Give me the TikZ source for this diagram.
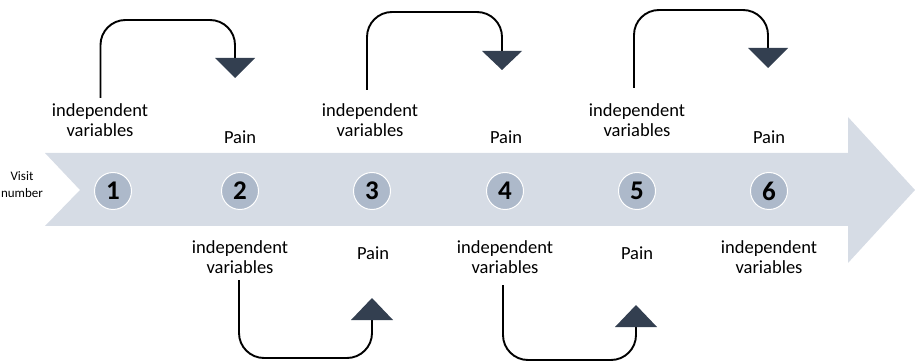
\documentclass[tikz,border=0pt]{standalone}
\usepackage{fontspec}
\setmainfont{Carlito}
\definecolor{bandfill}{HTML}{D6DCE5}
\definecolor{dotfill}{HTML}{ADB9CA}
\definecolor{tipfill}{HTML}{333F50}
\begin{document}
\begin{tikzpicture}[x=1pt,y=-1pt,
  lbl/.style={align=center,inner sep=0pt,font=\fontsize{18.5}{20}\selectfont},
  small/.style={align=center,inner sep=0pt,font=\fontsize{13}{17}\selectfont},
  visit/.style={circle,minimum size=37pt,inner sep=0pt,fill=dotfill,draw=white,line width=1pt,font=\fontsize{27}{27}\selectfont\bfseries},
  link/.style={line width=1.9pt,rounded corners=25pt},
  tipdown/.style={fill=tipfill},
]
\useasboundingbox (0,0) rectangle (915,363);
% band arrow
\fill[bandfill] (45,153) -- (848,153) -- (848,117) -- (915,190) -- (848,263) -- (848,226) -- (45,226) -- (80,190) -- cycle;
\node[small] (vn) at (22,185) {Visit\\number};
% circles
\node[visit] (v1) at (113,191) {1};
\node[visit] (v2) at (240,191) {2};
\node[visit] (v3) at (372,191) {3};
\node[visit] (v4) at (505,191) {4};
\node[visit] (v5) at (637,191) {5};
\node[visit] (v6) at (769,191) {6};
% top labels
\node[lbl] (t1) at (100,120) {independent\\variables};
\node[lbl] (t2) at (240,137) {Pain};
\node[lbl] (t3) at (370,120) {independent\\variables};
\node[lbl] (t4) at (506,137) {Pain};
\node[lbl] (t5) at (637,120) {independent\\variables};
\node[lbl] (t6) at (769,137) {Pain};
% bottom labels
\node[lbl] (b2) at (240,257) {independent\\variables};
\node[lbl] (b3) at (373,253) {Pain};
\node[lbl] (b4) at (505,257) {independent\\variables};
\node[lbl] (b5) at (637,253) {Pain};
\node[lbl] (b6) at (769,257) {independent\\variables};
% connector ends
\coordinate (s1) at (100.5,98);
\coordinate (e1) at (235,58);
\coordinate (s2) at (367,90);
\coordinate (e2) at (502,51);
\coordinate (s3) at (634,88);
\coordinate (e3) at (768,48);
\coordinate (s4) at (239,280);
\coordinate (e4) at (372,320);
\coordinate (s5) at (503,285);
\coordinate (e5) at (636,327);
% top connectors
\draw[link] (s1) -- (100.5,20) -- (235,20) -- (e1);
\fill[tipdown] (e1) ++(-20,0) -- ++(40,0) -- ++(-20,20) -- cycle;
\draw[link] (s2) -- (367,12) -- (502,12) -- (e2);
\fill[tipdown] (e2) ++(-20,0) -- ++(40,0) -- ++(-20,19) -- cycle;
\draw[link] (s3) -- (634,10) -- (768,10) -- (e3);
\fill[tipdown] (e3) ++(-20,0) -- ++(40,0) -- ++(-20,20) -- cycle;
% bottom connectors
\draw[link] (s4) -- (239,358) -- (372,358) -- (e4);
\fill[tipdown] (e4) ++(-21,0) -- ++(42,0) -- ++(-21,-22) -- cycle;
\draw[link] (s5) -- (503,360) -- (636,360) -- (e5);
\fill[tipdown] (e5) ++(-21,0) -- ++(42,0) -- ++(-21,-22) -- cycle;
\end{tikzpicture}
\end{document}
